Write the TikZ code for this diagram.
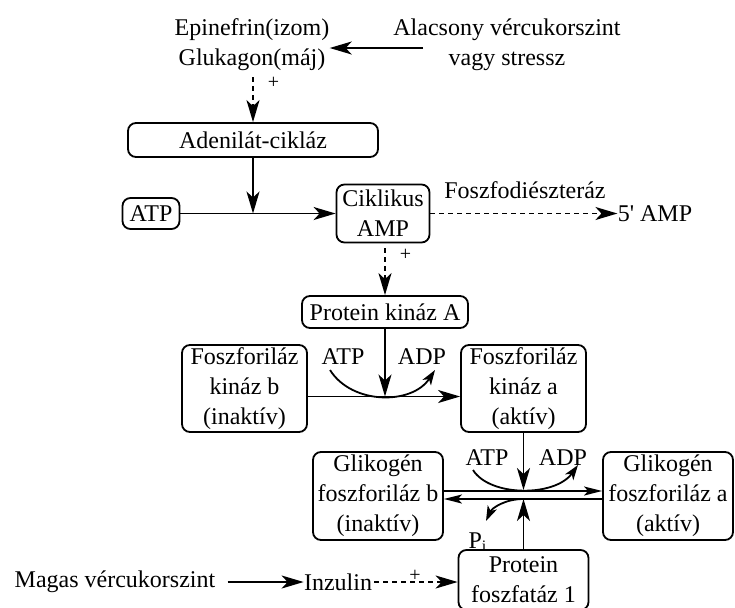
\documentclass[tikz,border=0pt]{standalone}
\usepackage{fontspec}
\setmainfont{Liberation Serif}
\usetikzlibrary{arrows.meta}

\begin{document}
\begin{tikzpicture}[x=0.5pt, y=-0.5pt,
  every node/.style={font=\fontsize{12}{15}\selectfont, inner sep=0pt, align=center},
  box/.style={draw, rounded corners=4pt, line width=0.9pt},
  arr/.style={-{Stealth[length=11pt, width=6.5pt, inset=3pt]}, line width=0.9pt},
  darr/.style={arr, dash pattern=on 2.5pt off 2pt},
  carr/.style={-{Stealth[length=7.5pt, width=5pt, inset=2pt]}, line width=0.9pt},
  dlarr/.style={-{Stealth[length=9pt, width=4.5pt, inset=2pt]}, line width=0.9pt},
  plus/.style={font=\fontsize{10}{12}\selectfont}]

  \useasboundingbox (0,0) rectangle (735,607);

  % Hormones and stimulus
  \node (horm) at (252,45) {Epinefrin(izom)\\Glukagon(máj)};
  \node (low) at (507,45) {Alacsony vércukorszint\\vagy stressz};
  \coordinate (lowin) at (423,48);
  \draw[arr] (lowin) -- (lowin -| horm.east);

  % Adenylate cyclase
  \node[box, minimum width=125pt, minimum height=17pt] (adc) at (253,140) {Adenilát-cikláz};
  \draw[darr, shorten <=3pt] (horm.south -| adc) -- node[plus, right=7pt, pos=0.22] {+} (adc);

  % cAMP row
  \node[box, minimum width=28.5pt, minimum height=15.5pt] (atp0) at (151,213.5) {ATP};
  \node[box, minimum width=46.5pt, minimum height=29pt] (camp) at (383,213.5) {Ciklikus\\AMP};
  \coordinate (adcin) at (253,213.5);
  \draw[arr] (adc) -- (adcin);
  \draw[arr] (atp0) -- (camp);
  \node (pde) at (525,190) {Foszfodiészteráz};
  \node (amp5) at (655,213.5) {5\textquotesingle{} AMP};
  \draw[darr] (camp) -- (amp5);

  % Protein kinase A
  \node[box, minimum width=83pt, minimum height=16pt] (pka) at (385,312) {Protein kináz A};
  \draw[darr, shorten <=2.5pt] (camp.south -| pka) -- node[plus, right=7pt, pos=0.22] {+} (pka);

  % Phosphorylase kinase
  \node[box, minimum width=62.5pt, minimum height=43.5pt] (fkb) at (244.5,388.5) {Foszforiláz\\kináz b\\(inaktív)};
  \node[box, minimum width=62.5pt, minimum height=43.5pt] (fka) at (523.5,388.5) {Foszforiláz\\kináz a\\(aktív)};
  \draw[arr] ([yshift=-4pt]fkb.east) -- ([yshift=-4pt]fka.west);
  \coordinate (kjoin) at (385,396.5);
  \draw[arr] (pka) -- (kjoin);
  \node (atp1) at (343,357) {ATP};
  \node (adp1) at (422,357) {ADP};
  \coordinate (atp1out) at (330,370);
  \coordinate (adp1in) at (435,370);
  \draw[carr] (atp1out) .. controls (352,405) and (412,405) .. (adp1in);

  % Glycogen phosphorylase
  \node[box, minimum width=65pt, minimum height=44pt] (gpb) at (378,496) {Glikogén\\foszforiláz b\\(inaktív)};
  \node[box, minimum width=65pt, minimum height=44pt] (gpa) at (668,496) {Glikogén\\foszforiláz a\\(aktív)};
  \draw[dlarr] ([yshift=2.5pt]gpb.east) -- ([yshift=2.5pt]gpa.west);
  \draw[dlarr] ([yshift=-1.5pt]gpa.west) -- ([yshift=-1.5pt]gpb.east);
  \coordinate (gjoin) at (523.5,490);
  \draw[arr] (fka) -- (gjoin);
  \node (atp2) at (487,458) {ATP};
  \node (adp2) at (563,458) {ADP};
  \coordinate (atp2out) at (473,470);
  \coordinate (adp2in) at (578,465);
  \draw[carr] (atp2out) .. controls (490,497) and (555,497) .. (adp2in);

  % Protein phosphatase 1
  \node[box, minimum width=65pt, minimum height=30pt] (pp1) at (523.5,580) {Protein\\foszfatáz 1};
  \coordinate (pjoin) at (523.5,499);
  \draw[arr] (pp1) -- (pjoin);
  \node (pi) at (478,542) {P\textsubscript{i}};
  \coordinate (piout) at (486,521);
  \draw[carr] (pjoin) .. controls (505,499) and (492,508) .. (piout);

  % Insulin
  \node (mag) at (115,582) {Magas vércukorszint};
  \node (inz) at (338,582) {Inzulin};
  \draw[arr, shorten <=6pt] (mag) -- (inz);
  \draw[darr, shorten <=1pt] (inz) -- node[plus, above=0pt] {+} (inz -| pp1.west);

\end{tikzpicture}
\end{document}
